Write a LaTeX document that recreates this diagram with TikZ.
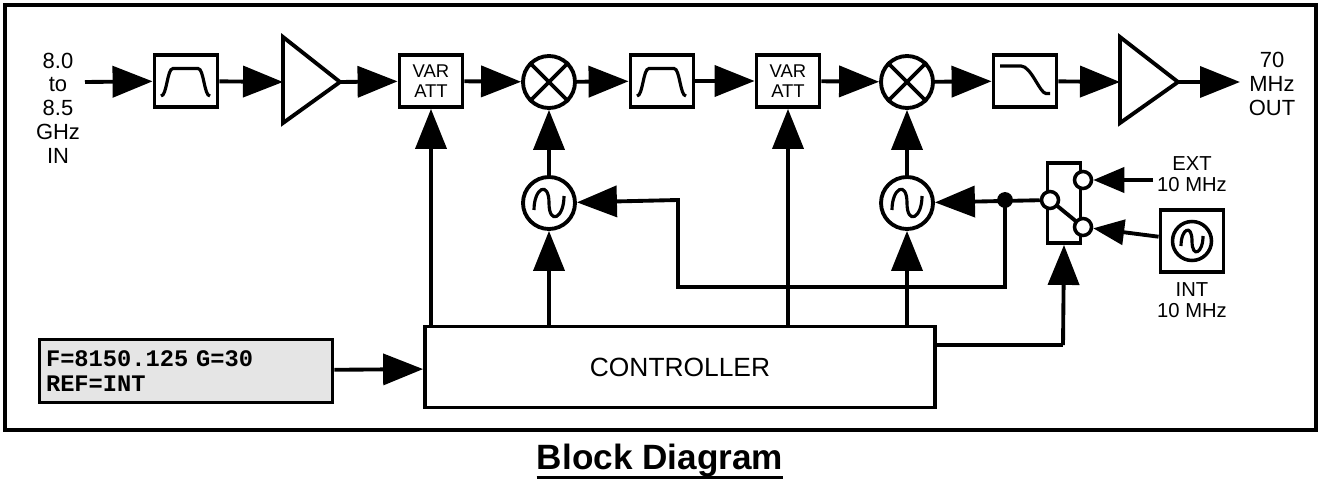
\documentclass[tikz,border=0pt]{standalone}
\usepackage{fontspec}
\setmainfont{Liberation Sans}
\newfontfamily\lcdfont{Liberation Mono}
\usetikzlibrary{arrows.meta}

\tikzset{
  wire/.style={line width=2.2pt},
  sig/.style={wire, -{Triangle[length=0.8cm,width=0.62cm]}},
  sigs/.style={wire, -{Triangle[length=0.62cm,width=0.5cm]}},
  blk/.style={draw, line width=2.2pt, minimum width=1.26cm, minimum height=1.04cm, inner sep=0pt},
  mix/.style={draw, circle, line width=2.2pt, minimum size=1.04cm, inner sep=0pt},
  port/.style={draw, circle, line width=2pt, fill=white, minimum size=0.34cm, inner sep=0pt},
  glyph/.style={line width=1.8pt},
}

\begin{document}
\begin{tikzpicture}[x={(0.02cm,0)}, y={(0,-0.02cm)}]
        \useasboundingbox (0,0) rectangle (1321,483);
        % Rahmen
        \draw[line width=2.4pt] (5,5) rectangle (1316,430);

        % Signalkette
        \node[align=center, font=\fontsize{12.5}{13.5}\selectfont] (rfin) at (58,108) {8.0\\to\\8.5\\GHz\\IN};
        \coordinate (inp) at (85,82);
        \node[blk] (bpfa) at (186,81) {};
        \draw[glyph] ([shift={(-0.5cm,-0.3cm)}]bpfa.center) .. controls +(0.12cm,0) and +(-0.12cm,0) .. ++(0.24cm,0.55cm) -- ++(0.5cm,0) .. controls +(0.12cm,0) and +(-0.12cm,0) .. ++(0.24cm,-0.55cm);
        \coordinate (ampa) at (283,82);
        \draw[wire] (283,37) -- (340,82) -- (283,123) -- cycle;
        \coordinate (ampaout) at (340,82);
        \node[blk, font=\fontsize{10.5}{11}\selectfont, align=center] (atta) at (431,81) {VAR\\ATT};
        \node[mix] (mixa) at (549,82) {};
        \draw[wire] (mixa.north west) -- (mixa.south east) (mixa.north east) -- (mixa.south west);
        \node[blk] (bpfb) at (662,81) {};
        \draw[glyph] ([shift={(-0.5cm,-0.3cm)}]bpfb.center) .. controls +(0.12cm,0) and +(-0.12cm,0) .. ++(0.24cm,0.55cm) -- ++(0.5cm,0) .. controls +(0.12cm,0) and +(-0.12cm,0) .. ++(0.24cm,-0.55cm);
        \node[blk, font=\fontsize{10.5}{11}\selectfont, align=center] (attb) at (788,81) {VAR\\ATT};
        \node[mix] (mixb) at (907,82) {};
        \draw[wire] (mixb.north west) -- (mixb.south east) (mixb.north east) -- (mixb.south west);
        \node[blk] (lpf) at (1025,81) {};
        \draw[glyph] ([shift={(-0.5cm,0.3cm)}]lpf.center) -- ++(0.42cm,0) .. controls +(0.2cm,0) and +(-0.12cm,0) .. ++(0.5cm,-0.55cm) -- ++(0.08cm,0);
        \coordinate (ampb) at (1120,82);
        \draw[wire] (1120,37) -- (1178,82) -- (1120,123) -- cycle;
        \coordinate (ampbout) at (1178,82);
        \coordinate (outp) at (1240,82);
        \node[align=center, font=\fontsize{12.5}{13.5}\selectfont] (ifout) at (1272,84) {70\\MHz\\OUT};

        \draw[sig] (inp) -- (bpfa);
        \draw[sig] (bpfa) -- (ampa);
        \draw[sig] (ampaout) -- (atta);
        \draw[sig] (atta) -- (mixa);
        \draw[sig] (mixa) -- (bpfb);
        \draw[sig] (bpfb) -- (attb);
        \draw[sig] (attb) -- (mixb);
        \draw[sig] (mixb) -- (lpf);
        \draw[sig] (lpf) -- (ampb);
        \draw[sig] (ampbout) -- (outp);

        % Oszillatoren
        \node[mix] (loa) at (549,203) {};
        \node[mix] (lob) at (907,203) {};
        \foreach \o in {loa,lob}
          \draw[glyph] ([shift={(-0.3cm,-0.14cm)}]\o.center) .. controls +(0,0.45cm) and +(0,0.45cm) .. (\o.center) .. controls +(0,-0.45cm) and +(0,-0.45cm) .. ([shift={(0.3cm,0.14cm)}]\o.center);
        \draw[sig] (loa) -- (mixa);
        \draw[sig] (lob) -- (mixb);

        % Steuerung
        \node[draw, line width=2.2pt, minimum width=10.2cm, minimum height=1.62cm, font=\fontsize{15}{16}\selectfont] (ctrl) at (680,367) {CONTROLLER};
        \node[draw, line width=2.2pt, fill=gray!20, minimum width=5.86cm, minimum height=1.26cm, align=left, font=\lcdfont\bfseries\fontsize{13.5}{14}\selectfont, text width=5.6cm] (lcd) at (186,371) {F=8150.125 G=30\\REF=INT};
        \draw[sig] (lcd) -- (ctrl);
        \draw[sig] (ctrl.north -| atta) -- (atta);
        \draw[sig] (ctrl.north -| loa) -- (loa);
        \draw[sig] (ctrl.north -| attb) -- (attb);
        \draw[sig] (ctrl.north -| lob) -- (lob);

        % Referenzumschalter
        \node[draw, line width=2.2pt, minimum width=0.66cm, minimum height=1.6cm] (sw) at (1064,203) {};
        \node[port] (swext) at (1083,180) {};
        \draw[wire] (1050,200) -- (1083,227);
        \node[port] (swc) at (1050,200) {};
        \node[port] (swint) at (1083,227) {};
        \coordinate (ctrlsw) at (1063,345);
        \draw[wire] (ctrl.east |- ctrlsw) -- (ctrlsw);
        \draw[sig] (ctrlsw) -- (sw.south);
        \fill (1005,200) circle (4.5pt) coordinate (jn);
        \draw[sig] (swc) -- (lob);
        \draw[sig] (jn) -- (1005,287) -- (678,287) -- (678,200) -- (loa);

        \coordinate (extin) at (1153,180);
        \draw[sigs] (extin) -- (swext);
        \node[align=center, font=\fontsize{11.5}{12}\selectfont] (extlbl) at (1192,174) {EXT\\10 MHz};
        \node[blk, minimum width=1.26cm, minimum height=1.24cm] (intosc) at (1192,241) {};
        \node[draw, circle, line width=2pt, minimum size=0.78cm] (intring) at (1192,241) {};
        \draw[glyph] ([shift={(-0.22cm,-0.1cm)}]intring.center) .. controls +(0,0.35cm) and +(0,0.35cm) .. (intring.center) .. controls +(0,-0.35cm) and +(0,-0.35cm) .. ([shift={(0.22cm,0.1cm)}]intring.center);
        \draw[sigs] (intosc) -- (swint);
        \node[align=center, font=\fontsize{11.5}{12}\selectfont] (intlbl) at (1192,300) {INT\\10 MHz};

        % Titel
        \node[font=\bfseries\fontsize{20}{21}\selectfont, inner sep=0pt] (title) at (660,460) {Block Diagram};
        \draw[line width=1.6pt] (title.base west) ++(0,-5pt) coordinate (ulA) (title.base east) ++(0,-5pt) coordinate (ulB);
        \draw[line width=1.6pt] (ulA) -- (ulB);
    \end{tikzpicture}
\end{document}
